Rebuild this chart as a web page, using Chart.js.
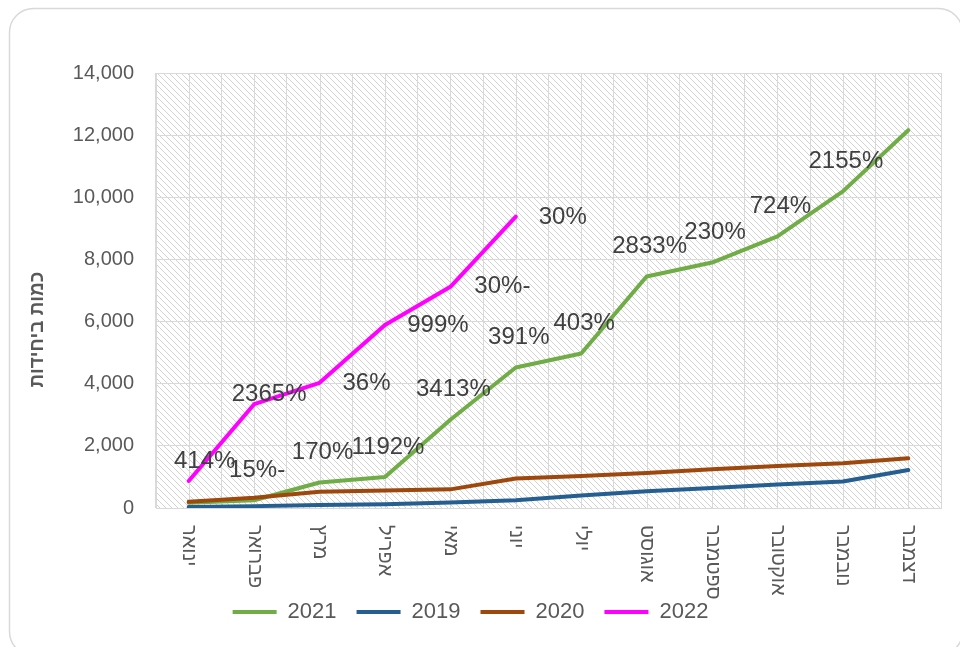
<!DOCTYPE html>
<html lang="he">
<head>
<meta charset="utf-8">
<title>כמות ביחידות</title>
<script src="https://cdn.jsdelivr.net/npm/chart.js@4.4.0/dist/chart.umd.min.js"></script>
<style>
  html, body { margin: 0; padding: 0; background: #fff; }
  #wrap { width: 960px; height: 647px; }
</style>
</head>
<body>
<div id="wrap"><canvas id="salesChart" width="960" height="647"></canvas></div>
<script>
// months (x categories)
const months = ['ינואר', 'פברואר', 'מרץ', 'אפריל', 'מאי', 'יוני', 'יולי', 'אוגוסט', 'ספטמבר', 'אוקטובר', 'נובמבר', 'דצמבר'];

// series values
const units2021 = [170, 250, 820, 1000, 2840, 4520, 4970, 7450, 7900, 8740, 10190, 12160];
const units2019 = [30, 60, 100, 120, 180, 250, 400, 540, 640, 760, 850, 1225];
const units2020 = [200, 330, 520, 560, 600, 950, 1030, 1130, 1250, 1350, 1440, 1600];
const units2022 = [870, 3340, 4030, 5890, 7120, 9380];

// y ticks
const yMax = 14000;
const yStep = 2000;

// percent labels
const labels2021 = [null, '15%-', '170%', '1192%', '3413%', '391%', '403%', '2833%', '230%', '724%', '2155%', null];
const labels2022 = ['414%', '2365%', '36%', '999%', '30%-', '30%'];

const yTitle = 'כמות ביחידות';

// label placement relative to its point (px)
const offset2021 = [3, -30];
const offsets2022 = [[16, -20], [15, -10], [47, 1], [53, 0], [52, 0], [47, 1]];

const gridColor = '#d9d9d9';
const textColor = '#595959';
const FONT = '"Liberation Sans", Arial, sans-serif';

Chart.defaults.font.family = FONT;
Chart.defaults.color = textColor;

function makeHatch(ctx) {
    const c = document.createElement('canvas');
    c.width = 6; c.height = 6;
    const g = c.getContext('2d');
    g.strokeStyle = '#d2d2d2';
    g.lineWidth = 1;
    g.beginPath();
    g.moveTo(-1, -1); g.lineTo(7, 7);
    g.moveTo(-1, 5); g.lineTo(1, 7);
    g.moveTo(5, -1); g.lineTo(7, 1);
    g.stroke();
    return ctx.createPattern(c, 'repeat');
}

const decor = {
    id: 'decor',
    beforeDraw(chart) {
        const { ctx, chartArea: a } = chart;
        ctx.save();
        ctx.fillStyle = '#fff';
        ctx.fillRect(0, 0, chart.width, chart.height);
        // outer rounded frame
        ctx.strokeStyle = gridColor;
        ctx.lineWidth = 1.5;
        ctx.beginPath();
        ctx.roundRect(9.5, 8.5, chart.width - 7, chart.height, 24);
        ctx.stroke();
        // hatched plot area
        ctx.fillStyle = makeHatch(ctx);
        ctx.fillRect(a.left, a.top, a.width, a.height);
        ctx.restore();
    },
    beforeDatasetsDraw(chart) {
        // extra vertical grid lines through each month
        const { ctx, chartArea: a } = chart;
        const xs = chart.scales.x;
        ctx.save();
        ctx.strokeStyle = gridColor;
        ctx.lineWidth = 1;
        ctx.beginPath();
        months.forEach((m, i) => {
            const x = Math.round(xs.getPixelForTick(i)) + 0.5;
            ctx.moveTo(x, a.top);
            ctx.lineTo(x, a.bottom);
        });
        ctx.stroke();
        ctx.restore();
    },
    afterDraw(chart) {
        const { ctx, chartArea: a } = chart;
        const xs = chart.scales.x;
        ctx.save();

        // month labels, turned clockwise
        ctx.fillStyle = textColor;
        ctx.font = '20px ' + FONT;
        ctx.textAlign = 'left';
        ctx.textBaseline = 'middle';
        months.forEach((m, i) => {
            ctx.save();
            ctx.translate(xs.getPixelForTick(i), a.bottom + 17);
            ctx.rotate(Math.PI / 2);
            ctx.fillText(m, 0, 0);
            ctx.restore();
        });

        // y axis title
        ctx.save();
        ctx.font = 'bold 19px ' + FONT;
        ctx.textAlign = 'center';
        ctx.translate(38, a.top + a.height * 0.59);
        ctx.rotate(-Math.PI / 2);
        ctx.fillText(yTitle, 0, 0);
        ctx.restore();

        // percent labels
        ctx.fillStyle = '#404040';
        ctx.font = '24px ' + FONT;
        ctx.textAlign = 'center';
        const m21 = chart.getDatasetMeta(0);
        labels2021.forEach((t, i) => {
            if (!t) return;
            const p = m21.data[i];
            ctx.fillText(t, p.x + offset2021[0], p.y + offset2021[1]);
        });
        const m22 = chart.getDatasetMeta(3);
        labels2022.forEach((t, i) => {
            if (!t) return;
            const p = m22.data[i];
            ctx.fillText(t, p.x + offsets2022[i][0], p.y + offsets2022[i][1]);
        });
        ctx.restore();
    }
};

function series(label, data, color, order) {
    return {
        label: label,
        data: data,
        borderColor: color,
        backgroundColor: color,
        borderWidth: 4,
        borderCapStyle: 'round',
        borderJoinStyle: 'round',
        pointRadius: 0,
        pointHoverRadius: 0,
        tension: 0,
        fill: false,
        order: order
    };
}

const ctx = document.getElementById('salesChart').getContext('2d');
new Chart(ctx, {
    type: 'line',
    data: {
        labels: months,
        datasets: [
            series('2021', units2021, '#70ad47', 2),
            series('2019', units2019, '#255e91', 3),
            series('2020', units2020, '#9e480e', 1),
            series('2022', units2022, '#ff00ff', 0)
        ]
    },
    options: {
        responsive: false,
        animation: false,
        layout: { padding: { top: 73, right: 19, bottom: 14, left: 0 } },
        scales: {
            x: {
                offset: true,
                grid: { offset: true, color: gridColor, drawTicks: false },
                border: { color: gridColor, width: 1 },
                ticks: { display: false },
                afterFit(s) { s.height = 73; }
            },
            y: {
                min: 0,
                max: yMax,
                ticks: {
                    stepSize: yStep,
                    padding: 22,
                    color: textColor,
                    font: { size: 20 },
                    callback: v => v.toLocaleString('en-US')
                },
                grid: { color: gridColor, drawTicks: false },
                border: { color: gridColor, width: 1 },
                afterFit(s) { s.width = 156; }
            }
        },
        plugins: {
            legend: {
                position: 'bottom',
                labels: {
                    usePointStyle: true,
                    pointStyle: 'line',
                    pointStyleWidth: 44,
                    padding: 20,
                    color: textColor,
                    font: { size: 22 },
                    sort: (a, b) => a.datasetIndex - b.datasetIndex
                }
            },
            tooltip: { enabled: false }
        }
    },
    plugins: [decor]
});
</script>
</body>
</html>
